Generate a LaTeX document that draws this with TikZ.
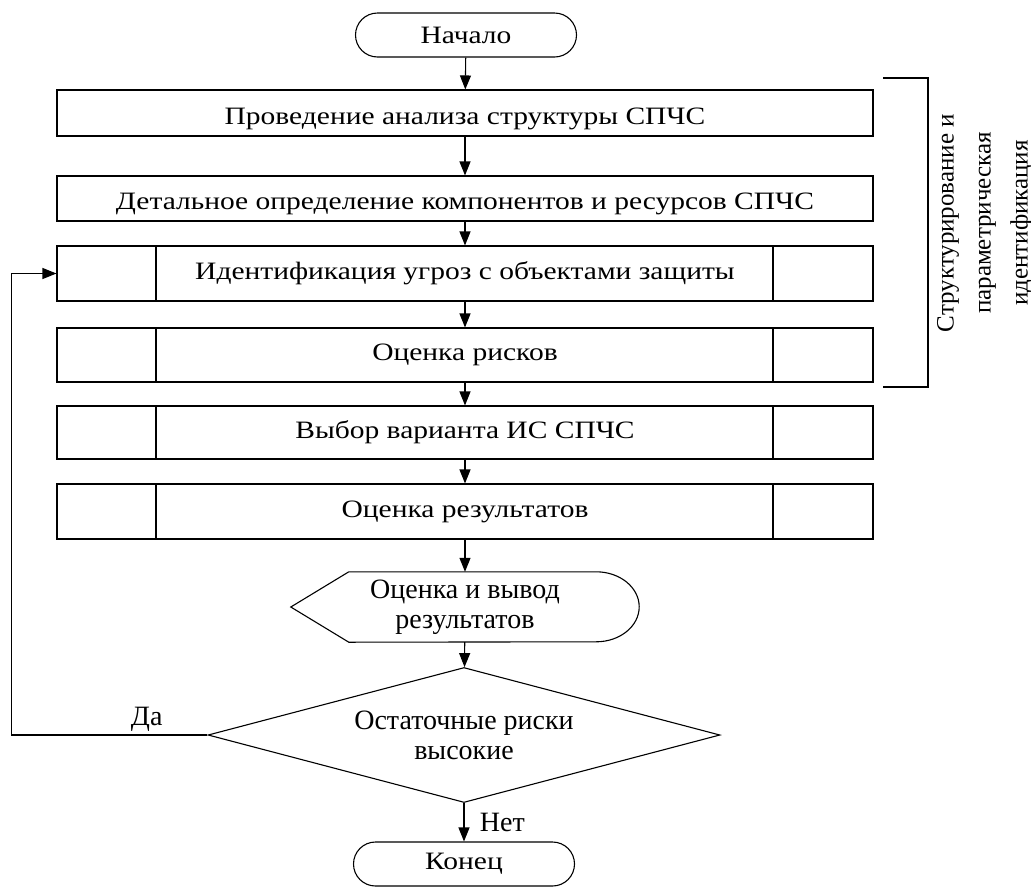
\documentclass[tikz,border=0pt]{standalone}
\usepackage{fontspec}
\setmainfont{Liberation Serif}[FakeStretch=1.18]
\newfontfamily\plainfont{Liberation Serif}
\usepackage{tikz}
\usetikzlibrary{shapes.geometric, arrows.meta, positioning, calc}

\newcommand{\boxfont}{\fontsize{25}{30}\selectfont}
\newcommand{\tallfont}{\plainfont\fontsize{28}{30}\selectfont}

\tikzset{
  line/.style={line width=1.1pt},
  arr/.style={line, -{Triangle[length=14pt, width=11pt]}},
  term/.style={line, draw, rounded corners=22pt, minimum width=221pt, minimum height=44pt},
  proc/.style={line, draw, minimum width=816pt, inner sep=0pt},
  low/.style={text height=25pt, text depth=3pt},
  predef/.style={proc, path picture={
      \draw[line] ([xshift=99pt]path picture bounding box.north west)
                  -- ([xshift=99pt]path picture bounding box.south west);
      \draw[line] ([xshift=-100pt]path picture bounding box.north east)
                  -- ([xshift=-100pt]path picture bounding box.south east);}},
  dec/.style={line, draw, diamond, aspect=3.8, minimum width=512pt, minimum height=135pt,
              inner sep=0pt, align=center, font=\tallfont},
}

\begin{document}
\begin{tikzpicture}[x=1pt, y=-1pt, font=\boxfont]
\useasboundingbox (0,0) rectangle (1031,887);

% ---- Terminators ---------------------------------------------------------
\node[term] (start) at (466,35) {Начало};
\node[term] (finish) at (464,864) {Конец};

% ---- Process boxes -------------------------------------------------------
\node[proc, low, minimum height=46pt] (analysis) at (465,113) {Проведение анализа структуры СПЧС};
\node[proc, low, minimum height=45pt] (components) at (465,198.5) {Детальное определение компонентов и ресурсов СПЧС};
\node[predef, minimum height=55pt] (threats) at (465,273.5) {Идентификация угроз с объектами защиты};
\node[predef, minimum height=54pt] (risks) at (465,355) {Оценка рисков};
\node[predef, minimum height=53pt] (variant) at (465,432.5) {Выбор варианта ИС СПЧС};
\node[predef, minimum height=55pt] (results) at (465,511.5) {Оценка результатов};

% ---- Display and decision ------------------------------------------------
\node[minimum width=348pt, minimum height=70pt, inner sep=0pt, align=center,
      font=\tallfont] (output) at (465,607) {Оценка и вывод\\результатов};
\draw[line] ([xshift=58pt]output.north west) -- ([xshift=-43pt]output.north east)
      arc[start angle=-90, end angle=90, x radius=43, y radius=35]
      -- ([xshift=58pt]output.south west) -- (output.west) -- cycle;
\node[dec] (check) at (464,735) {Остаточные риски\\высокие};

% ---- Connectors ----------------------------------------------------------
\draw[arr] (start) -- (analysis);
\draw[arr] (analysis) -- (components);
\draw[arr] (components) -- (threats);
\draw[arr] (threats) -- (risks);
\draw[arr] (risks) -- (variant);
\draw[arr] (variant) -- (results);
\draw[arr] (results) -- (output);
\draw[arr] (output) -- (check);
\draw[arr] (check) -- node[anchor=west, xshift=12pt, font=\tallfont] (no) {Нет} (finish);
\draw[arr] (check.west) -- node[above, pos=0.31, font=\tallfont] (yes) {Да} ++(-196,0)
      |- (threats.west);

% ---- Stage bracket -------------------------------------------------------
\draw[line] (883,78) -| (928,387) -- (883,387);
\node[rotate=90, align=center, font=\plainfont\fontsize{25}{37}\selectfont] (stage) at (985,223)
      {Структурирование и\\параметрическая\\идентификация};

\end{tikzpicture}
\end{document}
